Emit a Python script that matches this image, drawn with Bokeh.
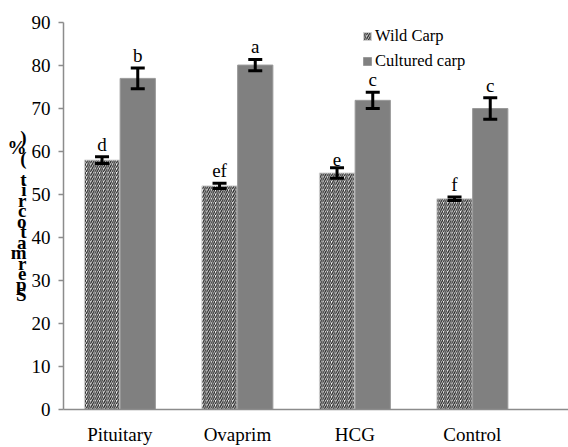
from bokeh.plotting import figure
from bokeh.models import (ColumnDataSource, Whisker, TeeHead, FixedTicker, Legend,
                          LegendItem)
from bokeh.embed import file_html
from bokeh.resources import INLINE
from bokeh.core.properties import value

categories = ["Pituitary", "Ovaprim", "HCG", "Control"]
wild = [58.0, 52.0, 55.0, 49.0]
wild_err = [0.8, 0.6, 1.2, 0.4]
wild_letters = ["d", "ef", "e", "f"]
cultured = [77.0, 80.1, 71.9, 70.0]
cultured_err = [2.4, 1.3, 1.9, 2.5]
cultured_letters = ["b", "a", "c", "c"]
y_ticks = [0, 10, 20, 30, 40, 50, 60, 70, 80, 90]
y_label = "Spermatocrit (%)"

FONT = "Liberation Serif"
BAR_W = 0.3
OFF = 0.152

pos = [i + 0.5 for i in range(len(categories))]
wsrc = ColumnDataSource(dict(
    x=[p - OFF for p in pos], top=wild,
    up=[v + e for v, e in zip(wild, wild_err)],
    lo=[v - e for v, e in zip(wild, wild_err)],
    lab=wild_letters))
csrc = ColumnDataSource(dict(
    x=[p + OFF for p in pos], top=cultured,
    up=[v + e for v, e in zip(cultured, cultured_err)],
    lo=[v - e for v, e in zip(cultured, cultured_err)],
    lab=cultured_letters))

p = figure(width=568, height=447, x_range=(0.02, 4.318), y_range=(0, 90),
           output_backend="svg", toolbar_location=None,
           min_border_left=63, min_border_right=0, min_border_top=22,
           min_border_bottom=36)
p.outline_line_color = None
p.xgrid.visible = False
p.ygrid.visible = False
p.background_fill_color = "white"
p.border_fill_color = "white"

rw = p.vbar(x="x", top="top", width=BAR_W, source=wsrc, fill_color="white",
            hatch_pattern="/", hatch_color="#222222", hatch_scale=4.3, hatch_weight=1.25,
            line_color="#d0d0d0", line_width=1)
rc = p.vbar(x="x", top="top", width=BAR_W, source=csrc, fill_color="#808080",
            line_color="#9a9a9a", line_width=1)

for src in (wsrc, csrc):
    w = Whisker(base="x", upper="up", lower="lo", source=src,
                line_color="black", line_width=3, level="annotation",
                upper_head=TeeHead(size=14, line_width=3, line_color="black"),
                lower_head=TeeHead(size=14, line_width=3, line_color="black"))
    p.add_layout(w)
    p.text(x="x", y="up", text="lab", source=src, text_align="center",
           text_baseline="bottom", y_offset=-2, text_font=value(FONT),
           text_font_size="19px", text_color="black")

# y axis
p.yaxis.ticker = FixedTicker(ticks=y_ticks)
p.yaxis.axis_line_color = "#8c8c8c"
p.yaxis.axis_line_width = 1.5
p.yaxis.major_tick_line_color = "#8c8c8c"
p.yaxis.major_tick_line_width = 1.5
p.yaxis.major_tick_out = 5
p.yaxis.major_tick_in = 0
p.yaxis.minor_tick_line_color = None
p.yaxis.major_label_standoff = 8
p.yaxis.major_label_text_font = FONT
p.yaxis.major_label_text_font_size = "19px"
p.yaxis.major_label_text_color = "black"
# stacked y-axis title (as it appears in the source image)
p.yaxis.axis_label = "\n".join(reversed(y_label))
p.yaxis.axis_label_orientation = "horizontal"
p.yaxis.axis_label_text_font = FONT
p.yaxis.axis_label_text_font_size = "19px"
p.yaxis.axis_label_text_font_style = "bold"
p.yaxis.axis_label_text_line_height = 0.5
p.yaxis.axis_label_text_align = "center"
p.yaxis.axis_label_standoff = 2
p.yaxis.axis_label_text_color = "black"

# x axis
p.xaxis.ticker = FixedTicker(ticks=pos)
p.xaxis.major_label_overrides = {pp: c for pp, c in zip(pos, categories)}
p.xaxis.axis_line_color = "#8c8c8c"
p.xaxis.axis_line_width = 1.5
p.xaxis.major_tick_line_color = None
p.xaxis.major_tick_out = 0
p.xaxis.major_tick_in = 0
p.xaxis.minor_tick_line_color = None
p.xaxis.major_label_standoff = 14
p.xaxis.major_label_text_font = FONT
p.xaxis.major_label_text_font_size = "19px"
p.xaxis.major_label_text_color = "black"

legend = Legend(items=[LegendItem(label="Wild Carp", renderers=[rw]),
                       LegendItem(label="Cultured carp", renderers=[rc])],
                location=(299, 338), orientation="vertical",
                border_line_color=None, background_fill_alpha=0,
                padding=0, spacing=5, margin=0,
                glyph_width=10, glyph_height=10, label_height=20,
                label_standoff=3,
                label_text_font=FONT, label_text_font_size="16.5px",
                label_text_color="black")
p.add_layout(legend)

open("out.html", "w").write(file_html(p, INLINE))
